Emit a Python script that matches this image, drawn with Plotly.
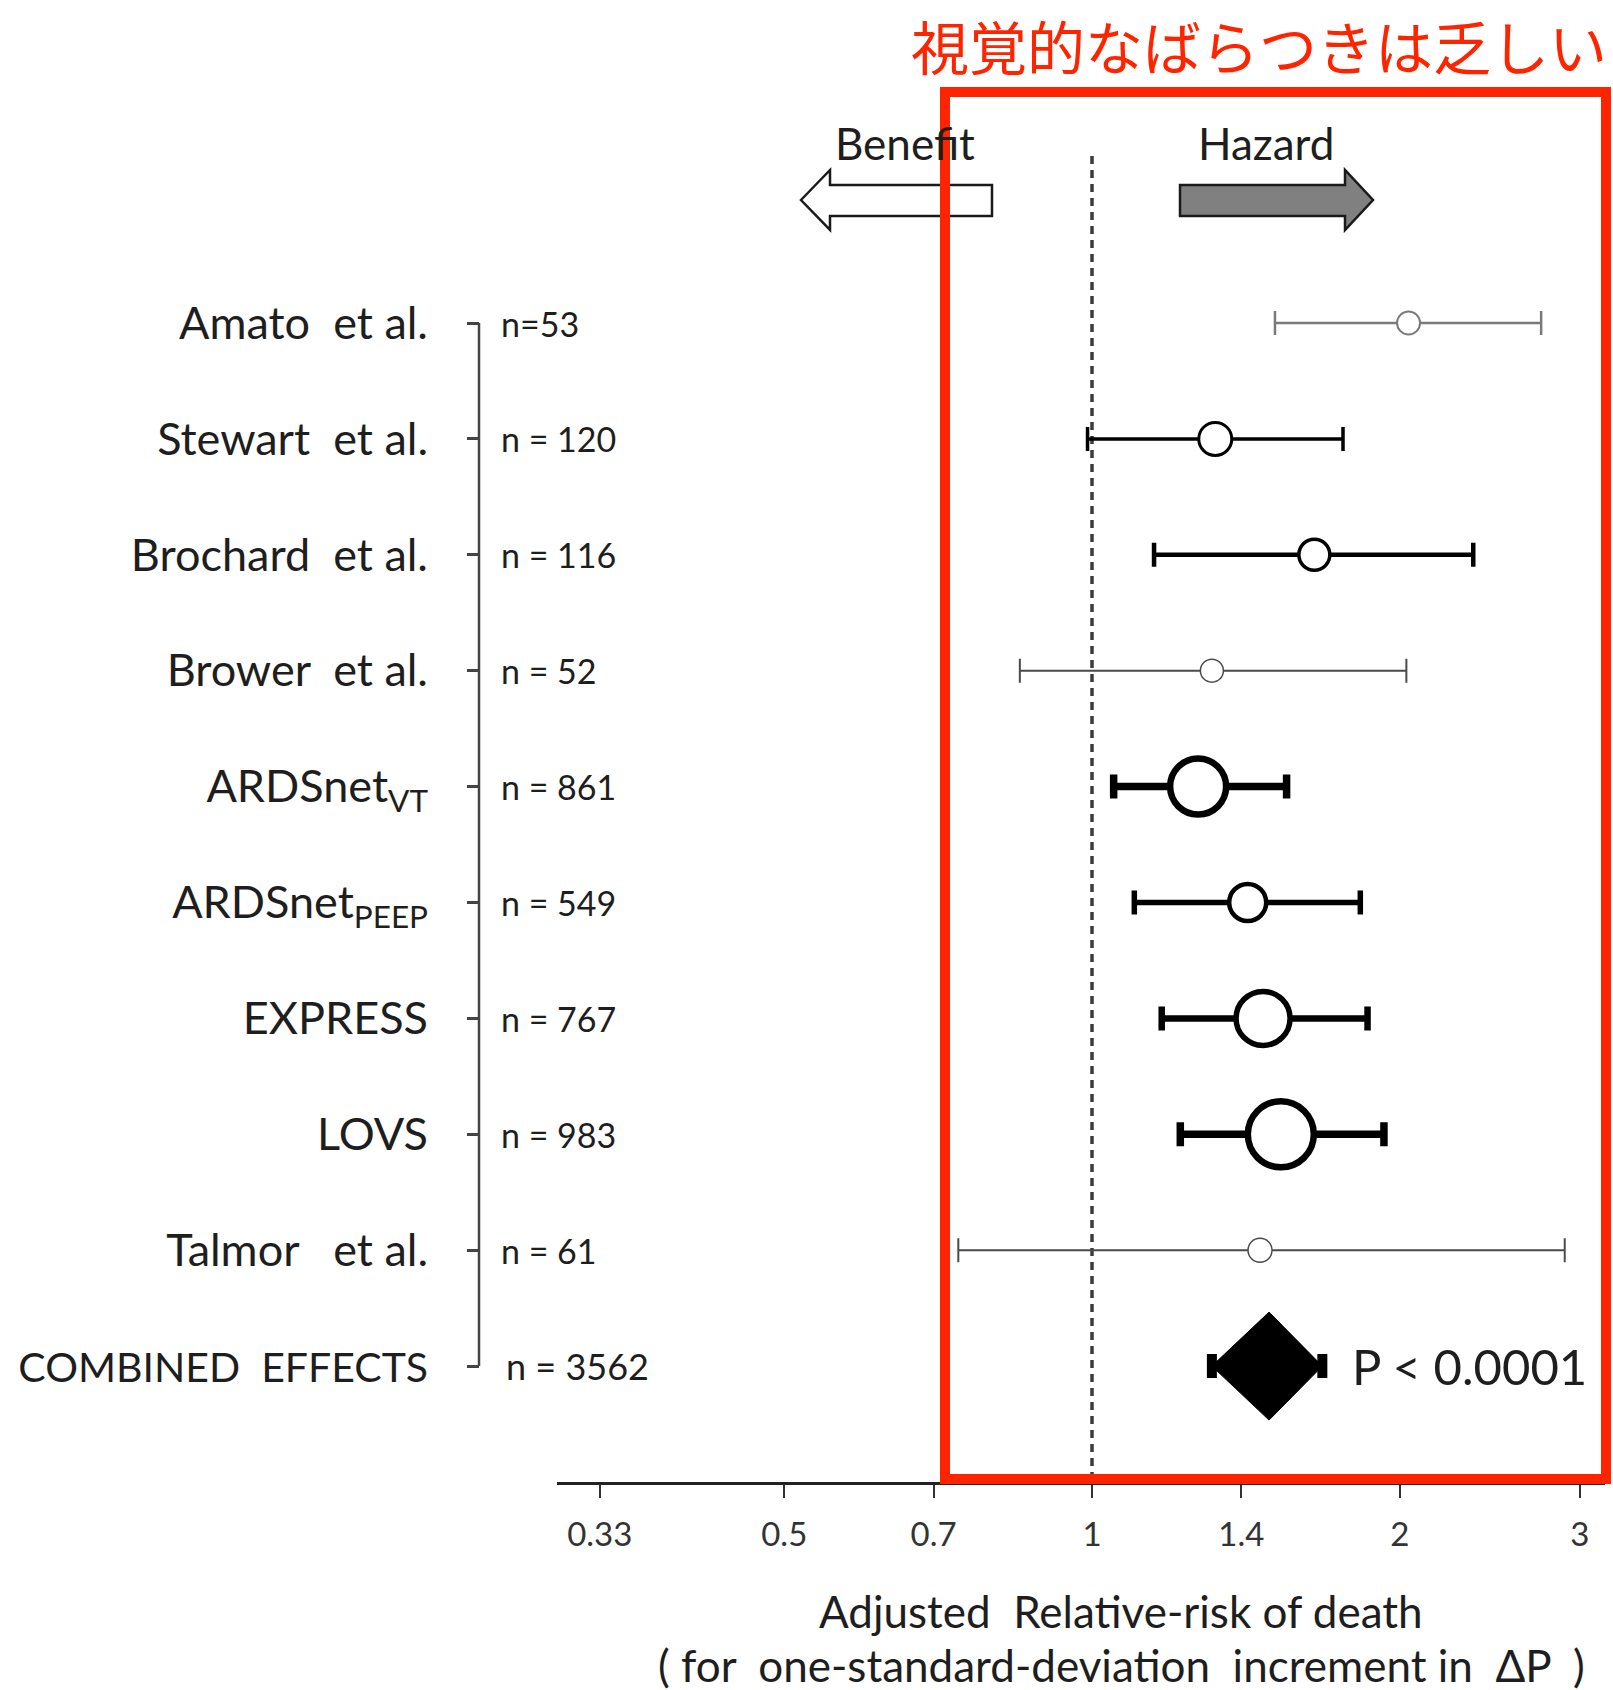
import math
import plotly.graph_objects as go

# ---------------- data ----------------
studies = [
    "Amato\u00a0\u00a0et al.",
    "Stewart\u00a0\u00a0et al.",
    "Brochard\u00a0\u00a0et al.",
    "Brower\u00a0\u00a0et al.",
    "ARDSnet<sub>VT</sub>",
    "ARDSnet<sub>PEEP</sub>",
    "EXPRESS",
    "LOVS",
    "Talmor\u00a0\u00a0\u00a0et al.",
    "COMBINED\u00a0\u00a0EFFECTS",
]
n_labels = ["n=53", "n = 120", "n = 116", "n = 52", "n = 861",
            "n = 549", "n = 767", "n = 983", "n = 61", "n = 3562"]
rr = [2.04, 1.32, 1.65, 1.31, 1.27, 1.42, 1.47, 1.53, 1.46, 1.49]
ci_low = [1.51, 0.99, 1.15, 0.85, 1.05, 1.10, 1.17, 1.22, 0.74, 1.31]
ci_high = [2.75, 1.76, 2.36, 2.03, 1.55, 1.83, 1.86, 1.93, 2.90, 1.68]
x_ticks = [0.33, 0.5, 0.7, 1, 1.4, 2, 3]
x_ticktext = ["0.33", "0.5", "0.7", "1", "1.4", "2", "3"]
p_text = "P < 0.0001"
title_text = "視覚的なばらつきは乏しい"
xlabel_1 = "Adjusted\u00a0\u00a0Relative-risk of death"
xlabel_2 = "(\u00a0for\u00a0\u00a0one-standard-deviation\u00a0\u00a0increment in\u00a0\u00a0ΔP\u00a0\u00a0)"

# ---------------- styles ----------------
W, H = 1613, 1690
FONT = "Lato, 'Open Sans', sans-serif"
TXT = "#1e1e1e"
RED = "#ff2400"
colors = ["#7a7a7a", "#000000", "#000000", "#4a4a4a", "#000000",
          "#000000", "#000000", "#000000", "#4a4a4a"]
thick = [2.5, 3.5, 4.5, 2, 7.5, 5.5, 6.5, 7.5, 2]
msize = [23, 33, 31, 23, 56, 37, 54, 66, 24]
mline = [2, 3, 3.5, 1.5, 6.5, 4.5, 5.5, 6.5, 1.5]

def px(x):
    return x / W

def py(y):
    return 1 - y / H

ROW0_PX, ROW_STEP = 323, 115.9
y_top = -ROW0_PX / ROW_STEP
y_bot = (H - ROW0_PX) / ROW_STEP
X_LEFT_PX, X_RIGHT_PX, X1_PX = 557, 1605, 1092
PX_PER_LN = 444
x_lo = math.log10(math.exp((X_LEFT_PX - X1_PX) / PX_PER_LN))
x_hi = math.log10(math.exp((X_RIGHT_PX - X1_PX) / PX_PER_LN))

rows = list(range(len(studies)))
tick_labels = [s if i < len(studies) - 1 else f'<span style="font-size:41px">{s}</span>'
               for i, s in enumerate(studies)]

fig = go.Figure()

# individual studies
for i in range(len(studies) - 1):
    fig.add_trace(go.Scatter(
        x=[rr[i]], y=[rows[i]], mode="markers",
        marker=dict(symbol="circle", size=msize[i], color="white",
                    line=dict(color=colors[i], width=mline[i])),
        error_x=dict(type="data", symmetric=False,
                     array=[ci_high[i] - rr[i]],
                     arrayminus=[rr[i] - ci_low[i]],
                     color=colors[i], thickness=thick[i], width=12),
        cliponaxis=False, showlegend=False, hoverinfo="skip",
    ))

# combined effect: caps + diamond
ic = len(studies) - 1
fig.add_trace(go.Scatter(
    x=[rr[ic]], y=[rows[ic]], mode="markers",
    marker=dict(size=1, color="rgba(0,0,0,0)"),
    error_x=dict(type="data", symmetric=False,
                 array=[ci_high[ic] - rr[ic]],
                 arrayminus=[rr[ic] - ci_low[ic]],
                 color="#000000", thickness=10, width=12),
    cliponaxis=False, showlegend=False, hoverinfo="skip",
))
half_h = 54 / ROW_STEP
fig.add_trace(go.Scatter(
    x=[ci_low[ic], rr[ic], ci_high[ic], rr[ic], ci_low[ic]],
    y=[rows[ic], rows[ic] - half_h, rows[ic], rows[ic] + half_h, rows[ic]],
    mode="lines", fill="toself", fillcolor="#000000",
    line=dict(color="#000000", width=1),
    showlegend=False, hoverinfo="skip",
))

# ---------------- shapes ----------------
shapes = []

def path_from(points):
    s = "M " + " L ".join(f"{px(a):.5f},{py(b):.5f}" for a, b in points) + " Z"
    return s

# Benefit arrow (left, white)
benefit_pts = [(801, 200), (830, 170), (830, 185), (992, 185),
               (992, 216), (830, 216), (830, 230)]
shapes.append(dict(type="path", xref="paper", yref="paper",
                   path=path_from(benefit_pts), fillcolor="white",
                   line=dict(color="#1a1a1a", width=2.5), layer="above"))
# Hazard arrow (right, gray)
hazard_pts = [(1180, 185), (1345, 185), (1345, 170), (1373, 200),
              (1345, 230), (1345, 216), (1180, 216)]
shapes.append(dict(type="path", xref="paper", yref="paper",
                   path=path_from(hazard_pts), fillcolor="#808080",
                   line=dict(color="#1a1a1a", width=2.5), layer="above"))

# dashed reference line at RR = 1
shapes.append(dict(type="line", xref="x", yref="paper",
                   x0=1, x1=1, y0=py(156), y1=py(1483),
                   line=dict(color="#3c3c3c", width=3.5, dash="8px,6px"),
                   layer="below"))

# vertical bracket line of the study axis
shapes.append(dict(type="line", xref="paper", yref="y",
                   x0=px(479), x1=px(479), y0=rows[0], y1=rows[-1],
                   line=dict(color="#444444", width=2.5)))

# red highlight box
shapes.append(dict(type="rect", xref="paper", yref="paper",
                   x0=px(945), x1=px(1606), y0=py(92), y1=py(1479),
                   line=dict(color=RED, width=10), fillcolor="rgba(0,0,0,0)",
                   layer="above"))

# ---------------- annotations ----------------
ann = []
for i, lab in enumerate(n_labels):
    last = i == len(n_labels) - 1
    ann.append(dict(x=px(504 if last else 499), y=rows[i], xref="paper", yref="y",
                    text=lab, showarrow=False, xanchor="left", yanchor="middle",
                    font=dict(family=FONT, size=36 if last else 34, color=TXT)))

ann.append(dict(x=px(1350), y=rows[ic], xref="paper", yref="y", text=p_text,
                showarrow=False, xanchor="left", yanchor="middle",
                font=dict(family=FONT, size=49, color=TXT)))

ann.append(dict(x=px(905), y=py(143), xref="paper", yref="paper", text="Benefit",
                showarrow=False, xanchor="center", yanchor="middle",
                font=dict(family=FONT, size=44, color=TXT)))
ann.append(dict(x=px(1266), y=py(143), xref="paper", yref="paper", text="Hazard",
                showarrow=False, xanchor="center", yanchor="middle",
                font=dict(family=FONT, size=44, color=TXT)))

ann.append(dict(x=px(1121), y=py(1611), xref="paper", yref="paper", text=xlabel_1,
                showarrow=False, xanchor="center", yanchor="middle",
                font=dict(family=FONT, size=44, color=TXT)))
ann.append(dict(x=px(1121), y=py(1665), xref="paper", yref="paper", text=xlabel_2,
                showarrow=False, xanchor="center", yanchor="middle",
                font=dict(family=FONT, size=44, color=TXT)))

ann.append(dict(x=px(1259), y=py(45), xref="paper", yref="paper", text=title_text,
                showarrow=False, xanchor="center", yanchor="middle",
                font=dict(family="Noto Sans CJK JP", size=58, color=RED)))

fig.update_layout(
    width=W, height=H,
    margin=dict(l=0, r=0, t=0, b=0),
    paper_bgcolor="white", plot_bgcolor="white",
    shapes=shapes, annotations=ann,
    showlegend=False,
    xaxis=dict(
        type="log", range=[x_lo, x_hi],
        domain=[px(X_LEFT_PX), px(X_RIGHT_PX)],
        anchor="free", position=py(1483),
        tickvals=x_ticks, ticktext=x_ticktext,
        ticks="outside", ticklen=13, tickwidth=2, tickcolor="#333333",
        showline=True, linecolor="#222222", linewidth=3,
        showgrid=False, zeroline=False,
        tickfont=dict(family=FONT, size=33, color="#333333"),
        ticklabelstandoff=8, automargin=False,
    ),
    yaxis=dict(
        range=[y_bot, y_top], domain=[0, 1],
        anchor="free", position=px(479),
        tickvals=rows, ticktext=tick_labels,
        ticks="outside", ticklen=12, tickwidth=2.5, tickcolor="#444444",
        showline=False, showgrid=False, zeroline=False,
        tickfont=dict(family=FONT, size=45, color=TXT),
        ticklabelstandoff=30, automargin=False,
    ),
)

fig.write_html(
    "out.html",
    config={"displayModeBar": False},
    post_script="document.body.style.margin='0';document.body.style.overflow='hidden';",
)
